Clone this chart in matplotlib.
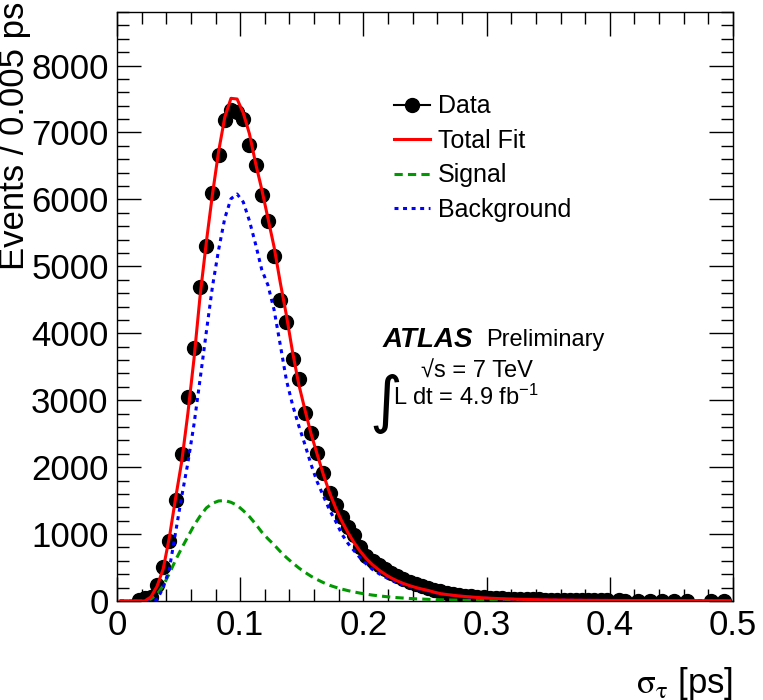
import numpy as np
import matplotlib
matplotlib.use('Agg')
import matplotlib.pyplot as plt
from matplotlib.lines import Line2D
from matplotlib.ticker import MultipleLocator

plt.rcParams['font.family'] = ['Liberation Sans', 'DejaVu Sans']
plt.rcParams['mathtext.fontset'] = 'custom'
plt.rcParams['mathtext.rm'] = 'Liberation Sans'
plt.rcParams['mathtext.it'] = 'Liberation Sans:italic'
plt.rcParams['mathtext.bf'] = 'Liberation Sans:bold'
plt.rcParams['mathtext.default'] = 'regular'

# binning: 100 bins of 0.005 ps between 0 and 0.5
bin_width = 0.005
n_bins = 100

# data counts per bin (nan = empty bin, not drawn)
nan = np.nan
data_counts = [
    nan, nan, nan, 15, 40, 60, 240, 510, 900, 1510,
    2200, 3055, 3780, 4690, 5300, 6100, 6670, 7190, 7330, 7300,
    7200, 6810, 6520, 6060, 5670, 5160, 4500, 4170, 3620, 3315,
    2815, 2515, 2210, 1915, 1620, 1440, 1260, 1110, 990, 800,
    665, 600, 540, 480, 420, 370, 330, 290, 255, 225,
    195, 170, 145, 125, 110, 95, 82, 72, 62, 55,
    48, 44, 40, 36, 33, 30, 27, 25, 23, 21,
    20, 18, 17, 16, 15, 14, 13, 12, 10, 9,
    nan, 8, 7, nan, 7, nan, 6, nan, 6, nan,
    5, nan, 5, nan, nan, nan, 4, nan, 4, nan,
]

# fit curves evaluated at the bin centres
total_fit = [
    0, 0, 0, 0, 0, 60, 220, 480, 950, 1530,
    2080, 2800, 3620, 4570, 5360, 6080, 6720, 7230, 7510, 7500,
    7290, 6980, 6540, 6150, 5720, 5290, 4760, 4270, 3720, 3240,
    2860, 2500, 2190, 1890, 1620, 1390, 1190, 1020, 870, 740,
    630, 540, 465, 400, 345, 300, 262, 230, 202, 178,
    158, 132, 110, 97, 86, 76, 67, 60, 53, 47,
    42, 38, 34, 31, 28, 25, 23, 21, 19, 17,
    16, 15, 14, 13, 12, 11, 10, 10, 9, 9,
    8, 8, 8, 7, 7, 7, 6, 6, 6, 6,
    5, 5, 5, 5, 5, 5, 4, 4, 4, 4,
]

signal = [
    0, 0, 0, 0, 0, 30, 100, 230, 410, 610,
    790, 960, 1130, 1270, 1390, 1460, 1495, 1500, 1475, 1430,
    1350, 1260, 1150, 1030, 930, 840, 740, 650, 570, 495,
    430, 370, 320, 275, 235, 205, 178, 155, 135, 117,
    102, 88, 77, 67, 58, 50, 44, 38, 33, 29,
    25, 22, 19, 17, 15, 13, 11, 10, 9, 8,
    7, 6, 5, 5, 4, 4, 3, 3, 3, 2,
    2, 2, 2, 1, 1, 1, 1, 1, 1, 1,
    0, 0, 0, 0, 0, 0, 0, 0, 0, 0,
    0, 0, 0, 0, 0, 0, 0, 0, 0, 0,
]

background = [
    0, 0, 0, 0, 0, 0, 20, 200, 480, 1020,
    1560, 2060, 2640, 3320, 4020, 4700, 5250, 5720, 6010, 6080,
    5960, 5680, 5330, 4950, 4720, 4350, 3830, 3300, 2930, 2620,
    2340, 2040, 1780, 1570, 1360, 1190, 1000, 860, 750, 640,
    550, 470, 410, 360, 315, 275, 240, 215, 190, 168,
    150, 128, 105, 93, 83, 73, 64, 57, 51, 45,
    40, 36, 33, 30, 27, 24, 22, 20, 18, 17,
    15, 14, 13, 12, 11, 11, 10, 9, 9, 8,
    8, 7, 7, 7, 6, 6, 6, 5, 5, 5,
    5, 5, 5, 4, 4, 4, 4, 4, 4, 4,
]

x_centres = bin_width * (np.arange(n_bins) + 0.5)

fig = plt.figure(figsize=(7.63, 7.0), dpi=100)
ax = fig.add_axes([117 / 763, 99 / 700, 616 / 763, 589 / 700])

ax.plot(x_centres, data_counts, 'o', color='black', ms=10, zorder=2)
ax.plot(x_centres, signal, color='#009900', lw=2.2, dashes=(2.7, 1.7), zorder=3)
ax.plot(x_centres, background, color='#0000ff', lw=2.2, dashes=(1.3, 1.5), zorder=4)
ax.plot(x_centres, total_fit, color='#ff0000', lw=2.2, zorder=5)

ax.set_xlim(0, 0.5)
ax.set_ylim(0, 8800)
ax.xaxis.set_major_locator(MultipleLocator(0.1))
ax.xaxis.set_minor_locator(MultipleLocator(0.02))
ax.yaxis.set_major_locator(MultipleLocator(1000))
ax.yaxis.set_minor_locator(MultipleLocator(200))
ax.set_xticks([0, 0.1, 0.2, 0.3, 0.4, 0.5])
ax.set_xticklabels(['0', '0.1', '0.2', '0.3', '0.4', '0.5'])
ax.tick_params(which='both', direction='in', top=True, right=True, width=1)
ax.tick_params(which='major', length=17, labelsize=25)
ax.tick_params(which='minor', length=8.5)
ax.tick_params(axis='x', pad=6)
ax.tick_params(axis='y', pad=6)
for sp in ax.spines.values():
    sp.set_linewidth(1.0)

fig.text(15 / 763, 698 / 700, 'Events / 0.005 ps', rotation=90,
         ha='center', va='top', fontsize=25)
fig.text(733 / 763, 17 / 700, r'$\mathrm{\sigma}_{\mathrm{\tau}}$ [ps]',
         ha='right', va='center', fontsize=25, math_fontfamily='stix')

handles = [
    Line2D([], [], color='black', marker='o', ms=10, lw=1.5),
    Line2D([], [], color='#ff0000', lw=2.2),
    Line2D([], [], color='#009900', lw=2.2, dashes=(2.7, 1.7)),
    Line2D([], [], color='#0000ff', lw=2.2, dashes=(1.3, 1.5)),
]
ax.legend(handles, ['Data', 'Total Fit', 'Signal', 'Background'],
          loc='upper left', bbox_to_anchor=(0.45, 0.86), frameon=False,
          fontsize=18, handlelength=1.45, handletextpad=0.3,
          labelspacing=0.42, borderpad=0, borderaxespad=0)

def ax_xy(px, py):
    return (px - 117) / 616, (601 - py) / 589

x0, y0 = ax_xy(383, 340)
ax.text(x0, y0, 'ATLAS', transform=ax.transAxes, fontsize=20,
        fontweight='bold', fontstyle='italic', ha='left', va='center')
x0, y0 = ax_xy(486, 340)
ax.text(x0, y0, 'Preliminary', transform=ax.transAxes, fontsize=17,
        ha='left', va='center')
x0, y0 = ax_xy(421, 372)
ax.text(x0, y0, '\u221as = 7 TeV', transform=ax.transAxes, fontsize=17,
        ha='left', va='center')
x0, y0 = ax_xy(385, 404)
ax.text(x0, y0, r'$\int$', transform=ax.transAxes, fontsize=32,
        ha='center', va='center', math_fontfamily='dejavusans')
x0, y0 = ax_xy(393, 397)
ax.text(x0, y0, r'L dt = 4.9 fb$^{-1}$', transform=ax.transAxes, fontsize=17,
        ha='left', va='center')

fig.savefig('out.png', dpi=100)
